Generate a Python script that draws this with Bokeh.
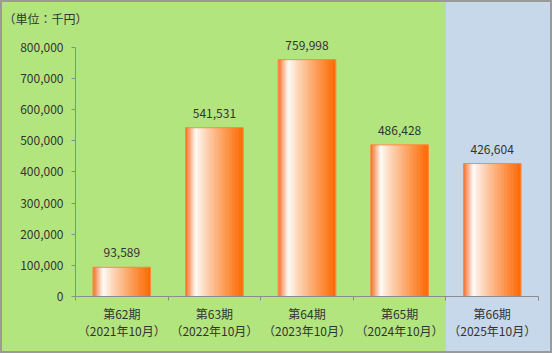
from bokeh.plotting import figure
from bokeh.models import (ColumnDataSource, FixedTicker, NumeralTickFormatter, Range1d,
                          LinearAxis)
from bokeh.core.properties import value
from bokeh.embed import file_html
from bokeh.resources import INLINE

# ---- data ----
periods = ["第62期", "第63期", "第64期", "第65期", "第66期"]
dates = ["（2021年10月）", "（2022年10月）", "（2023年10月）", "（2024年10月）", "（2025年10月）"]
sales = [93589, 541531, 759998, 486428, 426604]
y_ticks = [0, 100000, 200000, 300000, 400000, 500000, 600000, 700000, 800000]
unit_label = "（単位：千円）"

FONT = "Noto Sans CJK JP"
TXT = "#333333"
GREEN = "#B3E57E"
BLUE = "#C6D8EA"
GRID = "#8C8C8C"

n = len(sales)
centers = [i + 0.5 for i in range(n)]
bar_w = 0.62
y_top = 860000

p = figure(width=552, height=353, output_backend="svg", toolbar_location=None,
           x_range=Range1d(0, n), y_range=Range1d(0, y_top),
           x_axis_type=None, y_axis_type=None,
           min_border_left=75, min_border_right=14, min_border_top=28, min_border_bottom=57)
p.background_fill_alpha = 0
p.border_fill_alpha = 0
p.outline_line_color = None
# background: green for first periods, blue for the last one; grey frame
p.styles = {
    "background": f"linear-gradient(to right, {GREEN} 0px, {GREEN} 446px, {BLUE} 446px, {BLUE} 100%)",
    "box-shadow": "inset 0 0 0 2px #9A9A9A",
}

# unit label as title
p.title.text = unit_label
p.title.align = "left"
p.title.text_font = FONT
p.title.text_font_size = "12px"
p.title.text_font_style = "normal"
p.title.text_color = TXT
p.title.offset = -72
p.title.standoff = 4

# y axis
yaxis = LinearAxis(ticker=FixedTicker(ticks=y_ticks, minor_ticks=[]),
                   formatter=NumeralTickFormatter(format="0,0"))
yaxis.bounds = (0, 800000)
yaxis.axis_line_color = GRID
yaxis.major_tick_line_color = GRID
yaxis.major_tick_out = 4
yaxis.major_tick_in = 0
yaxis.minor_tick_line_color = None
yaxis.major_label_standoff = 8
yaxis.major_label_text_font = FONT
yaxis.major_label_text_font_size = "12px"
yaxis.major_label_text_color = TXT
p.add_layout(yaxis, "left")

# x axis: labels at centers, ticks at boundaries
xaxis = LinearAxis(ticker=FixedTicker(ticks=centers, minor_ticks=list(range(n + 1))))
xaxis.major_label_overrides = {c: f"{a}\n{b}" for c, a, b in zip(centers, periods, dates)}
xaxis.axis_line_color = GRID
xaxis.major_tick_line_color = None
xaxis.major_tick_out = 0
xaxis.major_tick_in = 0
xaxis.minor_tick_line_color = GRID
xaxis.minor_tick_out = 4
xaxis.minor_tick_in = 0
xaxis.major_label_standoff = 4
xaxis.major_label_text_font = FONT
xaxis.major_label_text_font_size = "12px"
xaxis.major_label_text_color = TXT
xaxis.major_label_text_line_height = 1.0
p.add_layout(xaxis, "below")

p.ygrid.ticker = FixedTicker(ticks=y_ticks[1:], minor_ticks=[])
p.ygrid.grid_line_color = GRID
p.ygrid.grid_line_width = 1.5
p.xgrid.grid_line_color = None


# ---- gradient bars built from strips ----
def grad_color(f):
    c0 = (248, 104, 32)    # left edge orange
    w = (255, 255, 255)
    c1 = (255, 102, 0)     # right edge orange
    fw = 0.18
    if f <= fw:
        t = f / fw
        a, b = c0, w
    else:
        t = (f - fw) / (1 - fw)
        t = t ** 0.85
        a, b = w, c1
    r, g, bl = (round(a[k] + (b[k] - a[k]) * t) for k in range(3))
    return f"#{r:02x}{g:02x}{bl:02x}"

N = 40
L, R, T, C = [], [], [], []
for cx, v in zip(centers, sales):
    x0 = cx - bar_w / 2
    for j in range(N):
        f = (j + 0.5) / N
        L.append(x0 + j * bar_w / N)
        R.append(x0 + (j + 1) * bar_w / N)
        T.append(v)
        C.append(grad_color(f))
src = ColumnDataSource(dict(left=L, right=R, top=T, bottom=[0] * len(L), color=C))
p.quad(left="left", right="right", top="top", bottom="bottom", source=src,
       fill_color="color", line_color="color", line_width=0.6)
p.quad(left=[c - bar_w / 2 for c in centers], right=[c + bar_w / 2 for c in centers],
       top=sales, bottom=[0] * n, fill_color=None, line_color="#FF8A3D", line_width=1)

# value labels
lsrc = ColumnDataSource(dict(x=centers, y=sales, t=[f"{v:,}" for v in sales]))
p.text(x="x", y="y", text="t", source=lsrc, y_offset=-10,
       text_align="center", text_baseline="bottom",
       text_font=value(FONT), text_font_size="12px", text_color=TXT)

open("out.html", "w").write(file_html(p, INLINE))
